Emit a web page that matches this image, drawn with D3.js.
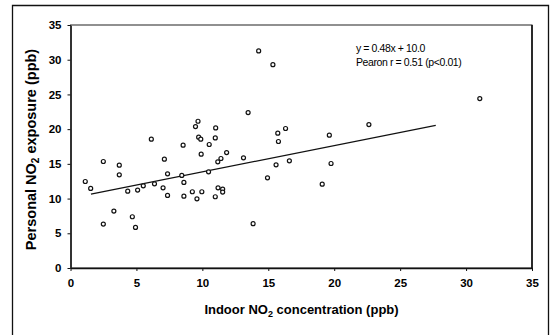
<!DOCTYPE html>
<html>
<head>
<meta charset="utf-8">
<script src="https://cdn.jsdelivr.net/npm/d3@7"></script>
<style>
  body { margin: 0; background: #fff; }
  svg { display: block; font-family: "Liberation Sans", Arial, sans-serif; }
</style>
</head>
<body>
<svg id="chart" width="553" height="335"></svg>
<script>
// indoor NO2 (x) and personal NO2 exposure (y), ppb
const indoor = [1.12, 1.53, 2.49, 2.49, 3.29, 3.70, 3.70, 4.34, 4.69, 4.93,
  5.09, 5.52, 6.13, 6.37, 7.02, 7.12, 7.36, 7.36, 8.44, 8.54,
  8.60, 8.60, 9.24, 9.48, 9.59, 9.67, 9.72, 9.88, 9.91, 9.96,
  10.47, 10.52, 11.01, 10.98, 10.98, 11.17, 11.19, 11.41, 11.54, 11.54,
  11.84, 13.12, 13.47, 13.85, 14.27, 14.94, 15.35, 15.59, 15.72, 15.77,
  16.31, 16.60, 19.09, 19.63, 19.76, 22.63, 31.04];
const personal = [12.46, 11.46, 15.34, 6.33, 8.20, 14.81, 13.42, 11.07, 7.38, 5.85,
  11.22, 11.84, 18.55, 12.13, 11.55, 15.68, 13.57, 10.45, 13.33, 17.69,
  12.32, 10.35, 10.98, 20.37, 9.97, 21.14, 18.84, 18.55, 16.39, 10.98,
  13.85, 17.79, 20.18, 18.74, 10.26, 15.29, 11.55, 15.77, 11.36, 10.93,
  16.63, 15.87, 22.39, 6.38, 31.26, 12.99, 29.29, 14.86, 19.42, 18.22,
  20.09, 15.44, 12.08, 19.13, 15.05, 20.66, 24.40];
// fitted line as drawn: [x, y] end points
const trend = [[1.55, 10.64], [27.7, 20.55]];
const ticks = [0, 5, 10, 15, 20, 25, 30, 35];
const notes = ["y = 0.48x + 10.0", "Pearon r = 0.51 (p<0.01)"];

const svg = d3.select("#chart");
const x = d3.scaleLinear().domain([0, 35]).range([70.5, 532]);
const y = d3.scaleLinear().domain([0, 35]).range([268, 25]);

// outer frame (bottom edge is cut off)
svg.append("path")
  .attr("d", "M12.5,340V5.5H548.5V340")
  .attr("fill", "none").attr("stroke", "#111").attr("stroke-width", 1.3);

// plot box
svg.append("rect")
  .attr("x", x(0)).attr("y", y(35))
  .attr("width", x(35) - x(0)).attr("height", y(0) - y(35))
  .attr("fill", "none").attr("stroke", "#222").attr("stroke-width", 1);
svg.append("line")
  .attr("x1", x(35)).attr("x2", x(35)).attr("y1", y(35)).attr("y2", y(0))
  .attr("stroke", "#111").attr("stroke-width", 1.6);

// axes
const yAxis = svg.append("g")
  .attr("transform", `translate(${x(0)},0)`)
  .call(d3.axisLeft(y).tickValues(ticks).tickSize(3).tickPadding(6).tickSizeOuter(0));
const xAxis = svg.append("g")
  .attr("transform", `translate(0,${y(0)})`)
  .call(d3.axisBottom(x).tickValues(ticks).tickSize(3).tickPadding(8).tickSizeOuter(0));

yAxis.select(".domain").attr("stroke", "#333").attr("stroke-width", 2);
xAxis.select(".domain").attr("stroke", "#111").attr("stroke-width", 1.6);
svg.selectAll(".tick line").attr("stroke", "#111");
svg.selectAll(".tick text")
  .attr("fill", "#000")
  .style("font-size", "11.5px")
  .style("font-weight", "bold");

// trend line
svg.append("line")
  .attr("x1", x(trend[0][0])).attr("y1", y(trend[0][1]))
  .attr("x2", x(trend[1][0])).attr("y2", y(trend[1][1]))
  .attr("stroke", "#111").attr("stroke-width", 1.2);

// points
svg.append("g")
  .selectAll("circle")
  .data(indoor)
  .join("circle")
  .attr("cx", (d) => x(d))
  .attr("cy", (d, i) => y(personal[i]))
  .attr("r", 2)
  .attr("fill", "#fff")
  .attr("stroke", "#111")
  .attr("stroke-width", 1.2);

// annotation
svg.append("g")
  .selectAll("text")
  .data(notes)
  .join("text")
  .attr("x", 356)
  .attr("y", (d, i) => 52 + i * 13.5)
  .style("font-size", "10.5px")
  .style("letter-spacing", "-0.4px")
  .text((d) => d);

// axis titles
const xt = svg.append("text")
  .attr("x", 301.5).attr("y", 314)
  .attr("text-anchor", "middle")
  .style("font-size", "13px").style("font-weight", "bold");
xt.append("tspan").text("Indoor NO");
xt.append("tspan").attr("dy", 3).style("font-size", "9px").text("2");
xt.append("tspan").attr("dy", -3).text(" concentration (ppb)");

const yt = svg.append("text")
  .attr("transform", "translate(35.5,149.5) rotate(-90)")
  .attr("text-anchor", "middle")
  .style("font-size", "14.5px").style("font-weight", "bold");
yt.append("tspan").text("Personal NO");
yt.append("tspan").attr("dy", 3).style("font-size", "10px").text("2");
yt.append("tspan").attr("dy", -3).text(" exposure (ppb)");
</script>
</body>
</html>
